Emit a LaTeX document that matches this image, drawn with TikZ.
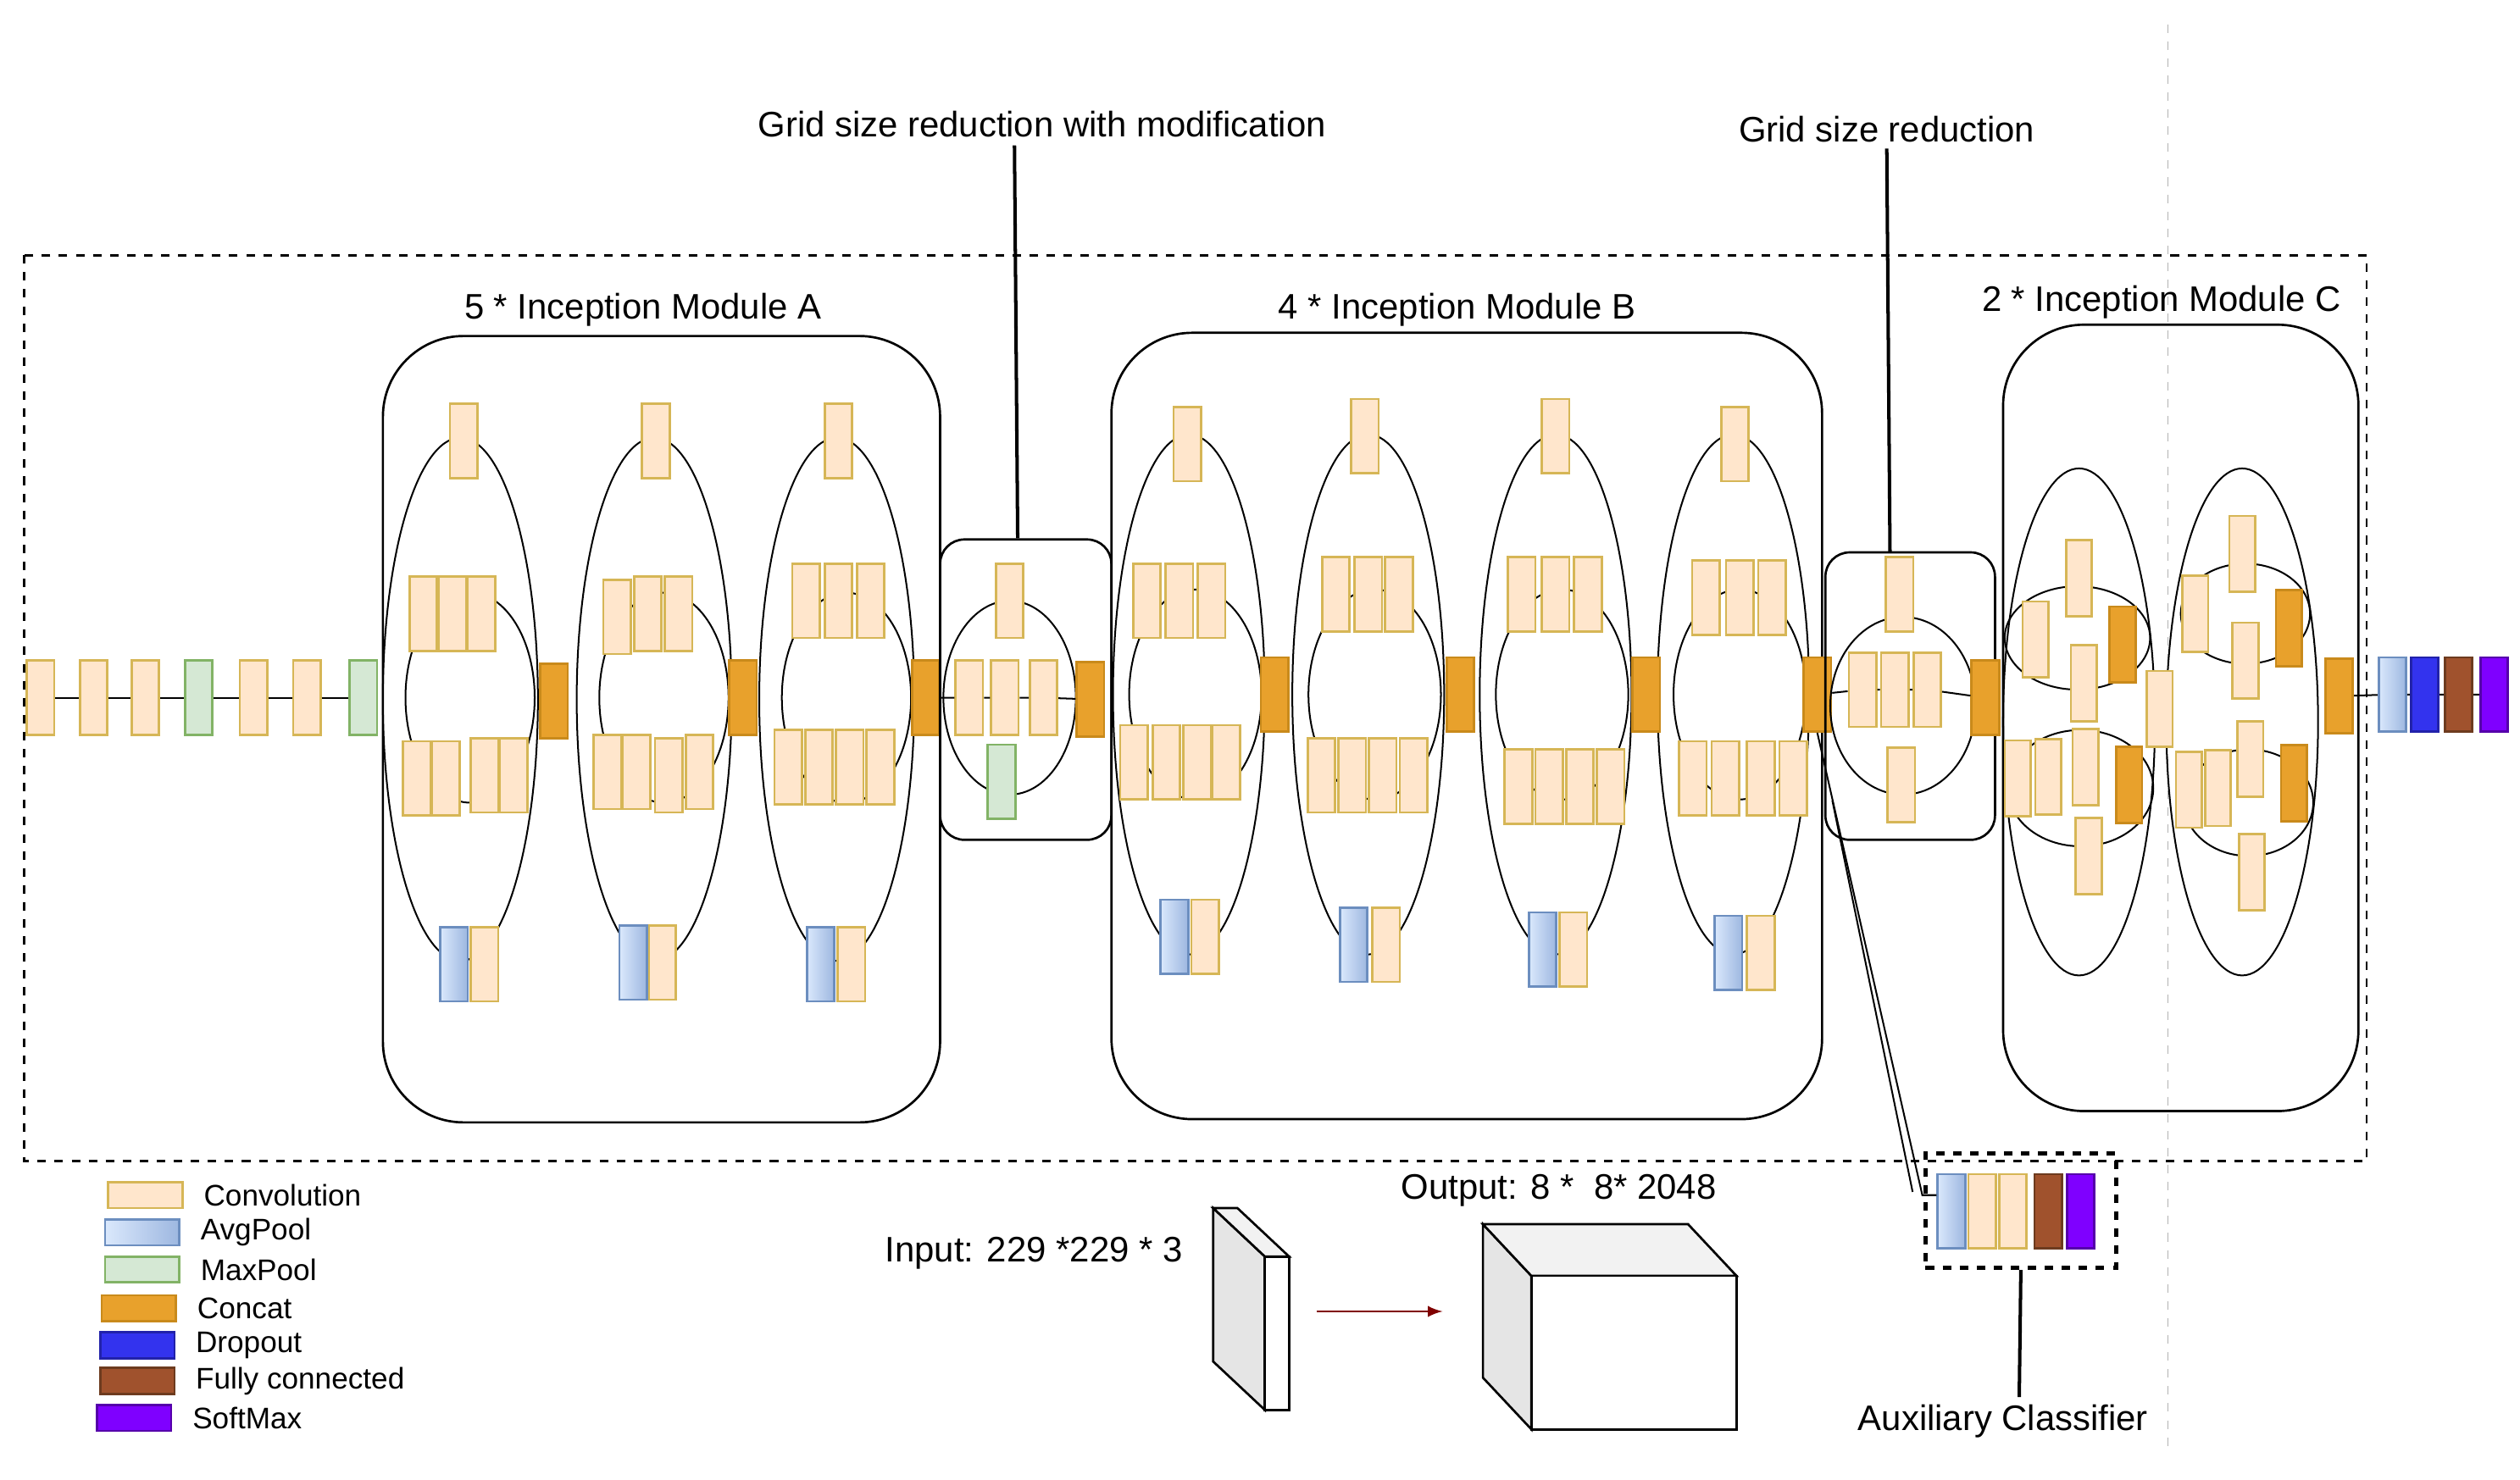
\documentclass[tikz,border=0pt]{standalone}
\usepackage{fontspec}
\setmainfont{Liberation Sans}
\begin{document}
\begin{tikzpicture}[x=0.02cm,y=-0.02cm,
 blk/.style={rectangle,minimum width=0.34cm,minimum height=0.92cm,inner sep=0pt,line width=0.8pt},
 conv/.style={blk,fill=convF,draw=convD},
 avg/.style={blk,left color=avgL,right color=avgR,draw=avgD},
 maxp/.style={blk,fill=maxF,draw=maxD},
 cat/.style={blk,fill=catF,draw=catD},
 drop/.style={blk,fill=dropF,draw=dropD},
 fc/.style={blk,fill=fcF,draw=fcD},
 soft/.style={blk,fill=softF,draw=softD},
 leg/.style={rectangle,minimum width=0.92cm,minimum height=0.32cm,inner sep=0pt,line width=0.8pt},
 lt/.style={anchor=west,font=\fontsize{10.5}{12}\selectfont},
 lab/.style={font=\fontsize{12.5}{14}\selectfont},
 ln/.style={line width=0.6pt},
 modbox/.style={draw,line width=0.8pt,rounded corners=1cm}]
\definecolor{convF}{HTML}{FFE6CC}\definecolor{convD}{HTML}{D6B656}
\definecolor{avgL}{HTML}{DAE8FC}\definecolor{avgR}{HTML}{9DB7E0}\definecolor{avgD}{HTML}{6C8EBF}
\definecolor{maxF}{HTML}{D5E8D4}\definecolor{maxD}{HTML}{82B366}
\definecolor{catF}{HTML}{E8A12C}\definecolor{catD}{HTML}{C98A1B}
\definecolor{dropF}{HTML}{3333EE}\definecolor{dropD}{HTML}{2222AA}
\definecolor{fcF}{HTML}{A0522D}\definecolor{fcD}{HTML}{6D3B1F}
\definecolor{softF}{HTML}{7F00FF}\definecolor{softD}{HTML}{5500AA}
\useasboundingbox (0,0) rectangle (1560,916);
% guide line and outer frame
\draw[gray!60,dashed,line width=0.5pt] (1342,15) -- (1342,900);
\draw[dashed,line width=0.8pt] (15,158) rectangle (1465,719);
% stem
\foreach \x/\s [count=\i] in {25/conv,58/conv,90/conv,123/maxp,157/conv,190/conv,225/maxp}
  \node[\s] (s\i) at (\x,432) {};
\foreach \i [evaluate=\i as \j using int(\i+1)] in {1,...,6} \draw[ln] (s\i) -- (s\j);
% Module A
\node[modbox,minimum width=6.9cm,minimum height=9.74cm] (modA) at (409.5,451.5) {};
\node[lab] (labA) at (398,192) {5 * Inception Module A};
\foreach \c in {285,405,518} {
  \draw[ln] (\c,433) ellipse [x radius=0.96cm,y radius=3.24cm];
  \draw[ln] (\c+6,432) ellipse [x radius=0.8cm,y radius=1.3cm];}
\foreach \x/\y [count=\i] in {287/273,262/380,280/380,298/380,258/482,276/482,300/480,318/480,300/597,
  406/273,382/382,401/380,420/380,376/478,394/478,414/480,433/478,410/596,
  519/273,499/372,519/372,539/372,488/475,507/475,526/475,545/475,527/597}
  \node[conv] (a\i) at (\x,\y) {};
\node[avg] (ap1) at (281,597) {};\node[avg] (ap2) at (392,596) {};\node[avg] (ap3) at (508,597) {};
\node[cat] (ac1) at (343,434) {};\node[cat] (ac2) at (460,432) {};\node[cat] (ac3) at (573,432) {};
% Reduction 1
\node[modbox,rounded corners=0.3cm,minimum width=2.12cm,minimum height=3.72cm] (red1) at (635,427) {};
\draw[ln] (625,432) ellipse [x radius=0.82cm,y radius=1.2cm];
\node[conv] (r1a) at (625,372) {};
\foreach \x [count=\i] in {600,622,646} \node[conv] (r1m\i) at (\x,432) {};
\node[maxp] (r1p) at (620,484) {};
\node[cat] (rc1) at (675,433) {};
\draw[ln] (ac3) -- (r1m1) -- (r1m2) -- (r1m3) -- (rc1);
\node[lab] (labR1) at (645,77) {Grid size reduction with modification};
\draw[line width=1.2pt] (red1.north) ++(-5,0) coordinate (r1t) -- (628,90);
% Module B
\node[modbox,minimum width=8.8cm,minimum height=9.74cm] (modB) at (908,449.5) {};
\node[lab] (labB) at (902,192) {4 * Inception Module B};
\foreach \c in {736,847,963,1073} {
  \draw[ln] (\c,430) ellipse [x radius=0.94cm,y radius=3.22cm];
  \draw[ln] (\c+4,430) ellipse [x radius=0.82cm,y radius=1.3cm];}
\foreach \x/\y [count=\i] in {735/275,710/372,730/372,750/372,702/472,722/472,741/472,759/472,746/580,
  845/270,827/368,847/368,866/368,818/480,837/480,856/480,875/480,858/585,
  963/270,942/368,963/368,983/368,940/487,959/487,978/487,997/487,974/588,
  1074/275,1056/370,1077/370,1097/370,1048/482,1068/482,1090/482,1110/482,1090/590}
  \node[conv] (b\i) at (\x,\y) {};
\foreach \x/\y [count=\i] in {727/580,838/585,955/588,1070/590} \node[avg] (bp\i) at (\x,\y) {};
\foreach \x [count=\i] in {789,904,1019,1125} \node[cat] (bc\i) at (\x,430) {};
% Reduction 2
\node[modbox,rounded corners=0.3cm,minimum width=2.1cm,minimum height=3.56cm] (red2) at (1182.5,431) {};
\draw[ln] (1178,437) ellipse [x radius=0.9cm,y radius=1.1cm];
\node[conv] (r2a) at (1176,368) {};
\foreach \x [count=\i] in {1153,1173,1193} \node[conv] (r2m\i) at (\x,427) {};
\node[conv] (r2b) at (1177,486) {};
\node[cat] (rc2) at (1229,432) {};
\draw[ln] (bc4) -- (r2m1) -- (r2m2) -- (r2m3) -- (rc2);
\node[lab] (labR2) at (1168,80) {Grid size reduction};
\draw[line width=1.2pt] (1170,342) -- (1168,92);
% Module C
\node[modbox,minimum width=4.4cm,minimum height=9.74cm] (modC) at (1350,444.5) {};
\node[lab] (labC) at (1338,187) {2 * Inception Module C};
\foreach \c in {1287,1388} \draw[ln] (\c,447) ellipse [x radius=0.94cm,y radius=3.14cm];
\draw[ln] (1286,395) ellipse [x radius=0.9cm,y radius=0.64cm];
\draw[ln] (1288,488) ellipse [x radius=0.9cm,y radius=0.72cm];
\draw[ln] (1390,380) ellipse [x radius=0.8cm,y radius=0.62cm];
\draw[ln] (1392,497) ellipse [x radius=0.8cm,y radius=0.66cm];
\foreach \x/\y [count=\i] in {1287/358,1260/396,1290/423,1249/482,1268/481,1291/475,1293/530,1337/439,
  1359/380,1388/343,1390/409,1355/489,1373/488,1393/470,1394/540}
  \node[conv,minimum width=0.32cm,minimum height=0.94cm] (c\i) at (\x,\y) {};
\foreach \x/\y [count=\i] in {1314/399,1318/486,1417/389,1420/485}
  \node[cat,minimum width=0.32cm,minimum height=0.94cm] (cc\i) at (\x,\y) {};
\node[cat] (cfin) at (1448,431) {};
\node[avg] (o1) at (1481,430) {};
\node[drop] (o2) at (1501,430) {};
\node[fc] (o3) at (1522,430) {};
\node[soft] (o4) at (1544,430) {};
\draw[ln] (cfin) -- (o1) -- (o2) -- (o3) -- (o4);
% Auxiliary classifier
\node[draw,dashed,line width=1.5pt,minimum width=2.36cm,minimum height=1.42cm] (aux) at (1251,749.5) {};
\node[avg] (x1) at (1208,750) {};
\node[conv] (x2) at (1227,750) {};
\node[conv] (x3) at (1246,750) {};
\node[fc] (x4) at (1268,750) {};
\node[soft] (x5) at (1288,750) {};
\coordinate (auxin) at (1190,740);
\draw[ln] (bc4.south) -- (auxin) -- (x1.west |- auxin);
\draw[ln] (red2.south west) ++(5,-25) -- (1184,738);
\draw[line width=1.2pt] (aux.south) -- (1250,865);
\node[lab] (labX) at (1240,880) {Auxiliary Classifier};
% Legend
\foreach \y/\s/\t/\x [count=\i] in {740/conv/Convolution/90,763/avg/AvgPool/88,786/maxp/MaxPool/88,810/cat/Concat/86,833/drop/Dropout/85,855/fc/Fully connected/85,878/soft/SoftMax/83} {
  \node[\s,leg] (g\i) at (\x,\y) {};
  \node[lt] (gt\i) at (\x+30,\y) {\t};}
% Input / output
\node[lab] (labIn) at (640,776) {Input: 229 *229 * 3};
\fill[gray!20,draw=black,line width=0.8pt] (751,748) -- (783,778) -- (783,873) -- (751,843) -- cycle;
\fill[gray!10,draw=black,line width=0.8pt] (751,748) -- (766,748) -- (798,778) -- (783,778) -- cycle;
\draw[fill=white,line width=0.8pt] (783,778) rectangle (798,873);
\coordinate (ar1) at (815,812); \coordinate (ar2) at (893,812);
\draw[-latex,line width=0.8pt,red!50!black] (ar1) -- (ar2);
\node[lab] (labOut) at (965,737) {Output: 8 *\ \ 8* 2048};
\fill[gray!20,draw=black,line width=0.8pt] (918,758) -- (948,790) -- (948,885) -- (918,853) -- cycle;
\fill[gray!10,draw=black,line width=0.8pt] (918,758) -- (1045,758) -- (1075,790) -- (948,790) -- cycle;
\draw[fill=white,line width=0.8pt] (948,790) rectangle (1075,885);
\end{tikzpicture}
\end{document}
